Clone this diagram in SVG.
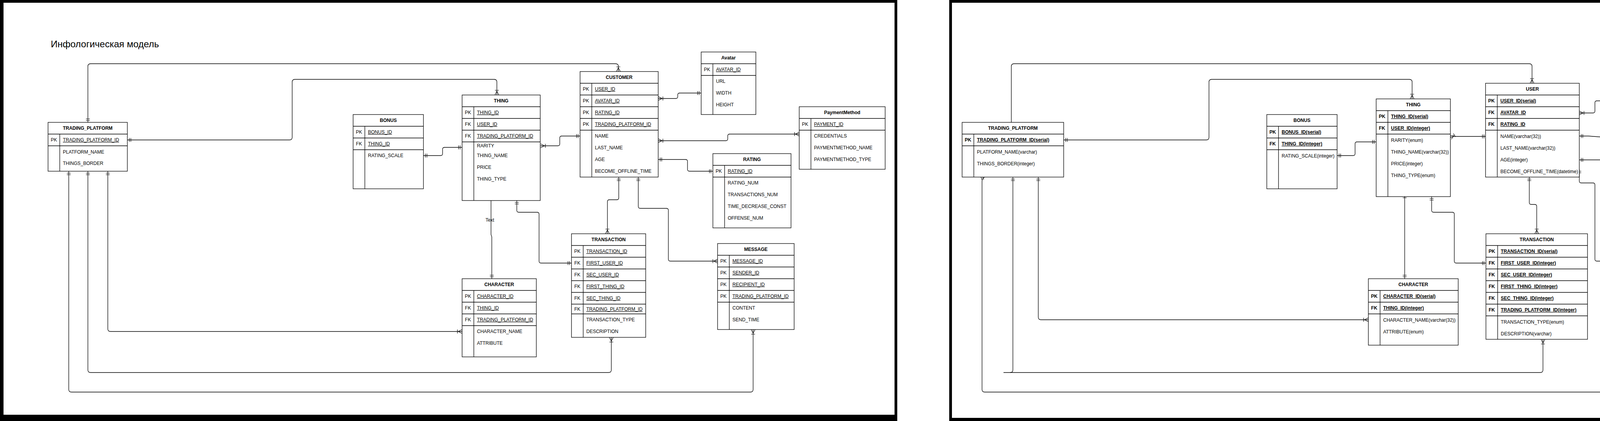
<svg xmlns="http://www.w3.org/2000/svg" width="5327" height="1077" viewBox="0 0 5327 1077">
<style>
text{font-family:"Liberation Sans",Arial,Helvetica,sans-serif;font-size:12px;fill:#000}
.h{font-weight:bold;text-anchor:middle}
.k{font-weight:bold;text-anchor:middle}
.u{font-weight:bold;text-decoration:underline}
.kl{text-anchor:middle}
.ul{text-decoration:underline}
.tb{fill:#fff;stroke:#000;stroke-width:1.3}
.ln{stroke:#000;stroke-width:1.3;fill:none}
.c{fill:none;stroke:#000;stroke-width:1.3}
.fr{fill:#000}
.title{font-size:24px}
</style>
<defs>
<marker id="one" markerUnits="userSpaceOnUse" viewBox="-16 -8 20 16" refX="0" refY="0" markerWidth="20" markerHeight="16" orient="auto-start-reverse"><path d="M-5,-5V5M-9,-5V5" fill="none" stroke="#000" stroke-width="1.2"/></marker>
<marker id="many" markerUnits="userSpaceOnUse" viewBox="-16 -8 20 16" refX="0" refY="0" markerWidth="20" markerHeight="16" orient="auto-start-reverse"><path d="M0,-5L-10,0L0,5M-12,-5V5" fill="none" stroke="#000" stroke-width="1.2"/></marker>
</defs>
<rect width="5327" height="1077" fill="#fff"/>
<g id="frames">
<rect class="fr" x="0" y="0" width="2297" height="7"/>
<rect class="fr" x="0" y="0" width="9" height="1077"/>
<rect class="fr" x="2290" y="0" width="7" height="1077"/>
<rect class="fr" x="0" y="1061" width="2297" height="16"/>
<rect class="fr" x="2430" y="0" width="2897" height="7"/>
<rect class="fr" x="2430" y="0" width="7" height="1077"/>
<rect class="fr" x="5320" y="0" width="7" height="1077"/>
<rect class="fr" x="2430" y="1069" width="2897" height="8"/>
</g>
<text id="title" class="title" x="130" y="121">Инфологическая модель</text>

<g id="connectors">
<path class="c" d="M225,313V170Q225,163 232,163H1576Q1583,163 1583,170V183" marker-start="url(#one)" marker-end="url(#many)"/>
<path class="c" d="M326,358H741Q748,358 748,351V210Q748,203 755,203H1265Q1272,203 1272,210V243" marker-start="url(#one)" marker-end="url(#many)"/>
<path class="c" d="M1084,398H1128Q1133,398 1133,393V382Q1133,377 1138,377H1183" marker-start="url(#one)" marker-end="url(#one)"/>
<path class="c" d="M1384,373H1428Q1433,373 1433,368V353Q1433,348 1438,348H1485" marker-start="url(#many)" marker-end="url(#one)"/>
<path class="c" d="M1685,252H1730Q1735,252 1735,247V243Q1735,238 1740,238H1795" marker-start="url(#many)" marker-end="url(#one)"/>
<path class="c" d="M1685,360H1858Q1863,360 1863,355V348Q1863,343 1868,343H2046" marker-start="url(#many)" marker-end="url(#many)"/>
<path class="c" d="M1685,408H1755Q1760,408 1760,413V433Q1760,438 1765,438H1825" marker-start="url(#one)" marker-end="url(#one)"/>
<path class="c" d="M1584,453V506Q1584,511 1579,511H1560Q1555,511 1555,516V598" marker-start="url(#one)" marker-end="url(#many)"/>
<path class="c" d="M1634,453V528Q1634,533 1639,533H1706Q1711,533 1711,538V663Q1711,668 1716,668H1837" marker-start="url(#one)" marker-end="url(#many)"/>
<path class="c" d="M1257,494V600L1259,606V713" marker-start="url(#many)" marker-end="url(#one)"/>
<path class="c" d="M1323,513V538Q1323,543 1328,543H1375Q1380,543 1380,548V668Q1380,673 1385,673H1463" marker-start="url(#one)" marker-end="url(#one)"/>
<path class="c" d="M276,438V841Q276,848 283,848H1183" marker-start="url(#one)" marker-end="url(#many)"/>
<path class="c" d="M225,438V946Q225,953 232,953H1558Q1565,953 1565,946V863" marker-start="url(#one)" marker-end="url(#many)"/>
<path class="c" d="M176,438V996Q176,1003 183,1003H1921Q1928,1003 1928,996V843" marker-start="url(#one)" marker-end="url(#many)"/>
<text x="1254" y="567" text-anchor="middle">Text</text>

<path class="c" d="M2589,313V170Q2589,163 2596,163H3915Q3922,163 3922,170V213" marker-end="url(#many)"/>
<path class="c" d="M2723,358H3088Q3095,358 3095,351V210Q3095,203 3102,203H3608Q3615,203 3615,210V253" marker-start="url(#one)" marker-end="url(#many)"/>
<path class="c" d="M3423,398H3464Q3469,398 3469,393V368Q3469,363 3474,363H3523" marker-start="url(#one)" marker-end="url(#one)"/>
<path class="c" d="M3713,352Q3718,349 3724,349H3804" marker-start="url(#many)" marker-end="url(#one)"/>
<path class="c" d="M4043,289H4078Q4083,289 4083,284V263Q4083,258 4088,258H4123" marker-start="url(#many)" marker-end="url(#one)"/>
<path class="c" d="M4043,348H4066L4538,383H4553" marker-start="url(#one)" marker-end="url(#many)"/>
<path class="c" d="M4763,383H4792L4950,398H4973" marker-start="url(#many)" marker-end="url(#one)"/>
<path class="c" d="M4043,409H4098Q4103,409 4103,414V433Q4103,438 4108,438H4163" marker-start="url(#one)" marker-end="url(#one)"/>
<path class="c" d="M3915,453V518Q3915,523 3920,523H3929Q3934,523 3934,528V598" marker-start="url(#one)" marker-end="url(#many)"/>
<path class="c" d="M4043,433V463Q4043,468 4048,468H4078Q4083,468 4083,473V663Q4083,668 4088,668H4176" marker-start="url(#one)" marker-end="url(#many)"/>
<path class="c" d="M3596,494V713" marker-start="url(#many)" marker-end="url(#one)"/>
<path class="c" d="M3665,503V538Q3665,543 3670,543H3718Q3723,543 3723,548V668Q3723,673 3728,673H3804" marker-start="url(#one)" marker-end="url(#one)"/>
<path class="c" d="M2658,453V811Q2658,818 2665,818H3503" marker-start="url(#one)" marker-end="url(#many)"/>
<path class="c" d="M2593,453V946Q2593,953 2586,953" marker-start="url(#one)"/>
<path class="c" d="M2569,953H3943Q3950,953 3950,946V868" marker-end="url(#many)"/>
<path class="c" d="M2521,453Q2514,456 2514,464V996Q2514,1003 2521,1003H4259Q4266,1003 4266,996V813" marker-start="url(#one)" marker-end="url(#many)"/>
</g>

<!-- LEFT PANEL -->
<g id="l-trading-platform">
<rect class="tb" x="123" y="313" width="203" height="125"/>
<path class="ln" d="M123,343H326M123,373H326M153,343V438"/>
<text class="h" x="224.5" y="332">TRADING_PLATFORM</text>
<text class="kl" x="138" y="362">PK</text><text class="ul" x="161" y="362">TRADING_PLATFORM_ID</text>
<text x="161" y="393">PLATFORM_NAME</text>
<text x="161" y="422">THINGS_BORDER</text>
</g>
<g id="l-bonus">
<rect class="tb" x="904" y="293" width="180" height="190"/>
<path class="ln" d="M904,323H1084M904,353H1084M904,383H1084M934,323V483"/>
<text class="h" x="994" y="312">BONUS</text>
<text class="kl" x="919" y="342">PK</text><text class="ul" x="942" y="342">BONUS_ID</text>
<text class="kl" x="919" y="372">FK</text><text class="ul" x="942" y="372">THING_ID</text>
<text x="942" y="402">RATING_SCALE</text>
</g>
<g id="l-thing">
<rect class="tb" x="1183" y="243" width="200" height="270"/>
<path class="ln" d="M1183,273H1383M1183,303H1383M1183,333H1383M1183,363H1383M1213,273V513"/>
<text class="h" x="1283" y="262">THING</text>
<text class="kl" x="1198" y="292">PK</text><text class="ul" x="1221" y="292">THING_ID</text>
<text class="kl" x="1198" y="322">FK</text><text class="ul" x="1221" y="322">USER_ID</text>
<text class="kl" x="1198" y="352">FK</text><text class="ul" x="1221" y="352">TRADING_PLATFORM_ID</text>
<text x="1221" y="377">RARITY</text>
<text x="1221" y="402">THING_NAME</text>
<text x="1221" y="432">PRICE</text>
<text x="1221" y="462">THING_TYPE</text>
</g>
<g id="l-customer">
<rect class="tb" x="1485" y="183" width="200" height="270"/>
<path class="ln" d="M1485,213H1685M1485,243H1685M1485,273H1685M1485,303H1685M1485,333H1685M1515,213V453"/>
<text class="h" x="1585" y="202">CUSTOMER</text>
<text class="kl" x="1500" y="232">PK</text><text class="ul" x="1523" y="232">USER_ID</text>
<text class="kl" x="1500" y="262">PK</text><text class="ul" x="1523" y="262">AVATAR_ID</text>
<text class="kl" x="1500" y="292">PK</text><text class="ul" x="1523" y="292">RATING_ID</text>
<text class="kl" x="1500" y="322">PK</text><text class="ul" x="1523" y="322">TRADING_PLATFORM_ID</text>
<text x="1523" y="352">NAME</text>
<text x="1523" y="382">LAST_NAME</text>
<text x="1523" y="412">AGE</text>
<text x="1523" y="442">BECOME_OFFLINE_TIME</text>
</g>
<g id="l-avatar">
<rect class="tb" x="1795" y="133" width="140" height="160"/>
<path class="ln" d="M1795,163H1935M1795,193H1935M1825,163V293"/>
<text class="h" x="1865" y="152">Avatar</text>
<text class="kl" x="1810" y="182">PK</text><text class="ul" x="1833" y="182">AVATAR_ID</text>
<text x="1833" y="212">URL</text>
<text x="1833" y="242">WIDTH</text>
<text x="1833" y="272">HEIGHT</text>
</g>
<g id="l-paymentmethod">
<rect class="tb" x="2046" y="273" width="220" height="160"/>
<path class="ln" d="M2046,303H2266M2046,333H2266M2076,303V433"/>
<text class="h" x="2156" y="292">PaymentMethod</text>
<text class="kl" x="2061" y="322">PK</text><text class="ul" x="2084" y="322">PAYMENT_ID</text>
<text x="2084" y="352">CREDENTIALS</text>
<text x="2084" y="382">PAYMENTMETHOD_NAME</text>
<text x="2084" y="412">PAYMENTMETHOD_TYPE</text>
</g>
<g id="l-rating">
<rect class="tb" x="1825" y="393" width="200" height="190"/>
<path class="ln" d="M1825,423H2025M1825,453H2025M1855,423V583"/>
<text class="h" x="1925" y="412">RATING</text>
<text class="kl" x="1840" y="442">PK</text><text class="ul" x="1863" y="442">RATING_ID</text>
<text x="1863" y="472">RATING_NUM</text>
<text x="1863" y="502">TRANSACTIONS_NUM</text>
<text x="1863" y="532">TIME_DECREASE_CONST</text>
<text x="1863" y="562">OFFENSE_NUM</text>
</g>
<g id="l-character">
<rect class="tb" x="1183" y="713" width="190" height="200"/>
<path class="ln" d="M1183,743H1373M1183,773H1373M1183,803H1373M1183,833H1373M1213,743V913"/>
<text class="h" x="1278" y="732">CHARACTER</text>
<text class="kl" x="1198" y="762">PK</text><text class="ul" x="1221" y="762">CHARACTER_ID</text>
<text class="kl" x="1198" y="792">FK</text><text class="ul" x="1221" y="792">THING_ID</text>
<text class="kl" x="1198" y="822">FK</text><text class="ul" x="1221" y="822">TRADING_PLATFORM_ID</text>
<text x="1221" y="852">CHARACTER_NAME</text>
<text x="1221" y="882">ATTRIBUTE</text>
</g>
<g id="l-transaction">
<rect class="tb" x="1463" y="598" width="190" height="265"/>
<path class="ln" d="M1463,628H1653M1463,658H1653M1463,688H1653M1463,718H1653M1463,748H1653M1463,778H1653M1463,803H1653M1493,628V863"/>
<text class="h" x="1558" y="617">TRANSACTION</text>
<text class="kl" x="1478" y="647">PK</text><text class="ul" x="1501" y="647">TRANSACTION_ID</text>
<text class="kl" x="1478" y="677">FK</text><text class="ul" x="1501" y="677">FIRST_USER_ID</text>
<text class="kl" x="1478" y="707">FK</text><text class="ul" x="1501" y="707">SEC_USER_ID</text>
<text class="kl" x="1478" y="737">FK</text><text class="ul" x="1501" y="737">FIRST_THING_ID</text>
<text class="kl" x="1478" y="767">FK</text><text class="ul" x="1501" y="767">SEC_THING_ID</text>
<text class="kl" x="1478" y="795">FK</text><text class="ul" x="1501" y="795">TRADING_PLATFORM_ID</text>
<text x="1501" y="822">TRANSACTION_TYPE</text>
<text x="1501" y="852">DESCRIPTION</text>
</g>
<g id="l-message">
<rect class="tb" x="1837" y="623" width="196" height="220"/>
<path class="ln" d="M1837,653H2033M1837,683H2033M1837,713H2033M1837,743H2033M1837,773H2033M1867,653V843"/>
<text class="h" x="1935" y="642">MESSAGE</text>
<text class="kl" x="1852" y="672">PK</text><text class="ul" x="1875" y="672">MESSAGE_ID</text>
<text class="kl" x="1852" y="702">PK</text><text class="ul" x="1875" y="702">SENDER_ID</text>
<text class="kl" x="1852" y="732">PK</text><text class="ul" x="1875" y="732">RECIPIENT_ID</text>
<text class="kl" x="1852" y="762">PK</text><text class="ul" x="1875" y="762">TRADING_PLATFORM_ID</text>
<text x="1875" y="792">CONTENT</text>
<text x="1875" y="822">SEND_TIME</text>
</g>

<!-- RIGHT PANEL -->
<g id="r-trading-platform">
<rect class="tb" x="2463" y="313" width="260" height="140"/>
<path class="ln" d="M2463,343H2723M2463,373H2723M2493,343V453"/>
<text class="h" x="2593" y="332">TRADING_PLATFORM</text>
<text class="k" x="2478" y="362">PK</text><text class="u" x="2501" y="362">TRADING_PLATFORM_ID(serial)</text>
<text x="2501" y="393">PLATFORM_NAME(varchar)</text>
<text x="2501" y="423">THINGS_BORDER(integer)</text>
</g>
<g id="r-bonus">
<rect class="tb" x="3243" y="293" width="180" height="190"/>
<path class="ln" d="M3243,323H3423M3243,353H3423M3243,383H3423M3273,323V483"/>
<text class="h" x="3333" y="312">BONUS</text>
<text class="k" x="3258" y="342">PK</text><text class="u" x="3281" y="342">BONUS_ID(serial)</text>
<text class="k" x="3258" y="372">FK</text><text class="u" x="3281" y="372">THING_ID(integer)</text>
<text x="3281" y="403">RATING_SCALE(integer)</text>
</g>
<g id="r-thing">
<rect class="tb" x="3523" y="253" width="190" height="250"/>
<path class="ln" d="M3523,283H3713M3523,313H3713M3523,343H3713M3553,283V503"/>
<text class="h" x="3618" y="272">THING</text>
<text class="k" x="3538" y="302">PK</text><text class="u" x="3561" y="302">THING_ID(serial)</text>
<text class="k" x="3538" y="332">FK</text><text class="u" x="3561" y="332">USER_ID(integer)</text>
<text x="3561" y="363">RARITY(enum)</text>
<text x="3561" y="393">THING_NAME(varchar(32))</text>
<text x="3561" y="423">PRICE(integer)</text>
<text x="3561" y="453">THING_TYPE(enum)</text>
</g>
<g id="r-user">
<rect class="tb" x="3803" y="213" width="240" height="240"/>
<path class="ln" d="M3803,243H4043M3803,273H4043M3803,303H4043M3803,333H4043M3833,243V453"/>
<text class="h" x="3923" y="232">USER</text>
<text class="k" x="3818" y="262">PK</text><text class="u" x="3841" y="262">USER_ID(serial)</text>
<text class="k" x="3818" y="292">FK</text><text class="u" x="3841" y="292">AVATAR_ID</text>
<text class="k" x="3818" y="322">FK</text><text class="u" x="3841" y="322">RATING_ID</text>
<text x="3841" y="353">NAME(varchar(32))</text>
<text x="3841" y="383">LAST_NAME(varchar(32))</text>
<text x="3841" y="413">AGE(integer)</text>
<text x="3841" y="443">BECOME_OFFLINE_TIME(datetime)</text>
</g>
<g id="r-avatar">
<rect class="tb" x="4123" y="153" width="150" height="160"/>
<path class="ln" d="M4123,183H4273M4123,213H4273M4153,183V313"/>
<text class="h" x="4198" y="172">Avatar</text>
<text class="k" x="4138" y="202">PK</text><text class="u" x="4161" y="202">AVATAR_ID(serial)</text>
<text x="4161" y="233">URL(varchar)</text>
<text x="4161" y="263">WIDTH(integer)</text>
<text x="4161" y="293">HEIGHT(integer)</text>
</g>
<g id="r-rating">
<rect class="tb" x="4163" y="393" width="260" height="190"/>
<path class="ln" d="M4163,423H4423M4163,453H4423M4193,423V583"/>
<text class="h" x="4293" y="412">RATING</text>
<text class="k" x="4178" y="442">PK</text><text class="u" x="4201" y="442">RATING_ID(serial)</text>
<text x="4201" y="473">RATING_NUM(integer)</text>
<text x="4201" y="503">TRANSACTIONS_NUM(integer)</text>
<text x="4201" y="533">TIME_DECREASE_CONST(datetime)</text>
<text x="4201" y="563">OFFENSE_NUM(integer)</text>
</g>
<g id="r-user-paymentmethod">
<rect class="tb" x="4553" y="308" width="210" height="140"/>
<path class="ln" d="M4553,338H4763M4553,398H4763M4613,338V448"/>
<text class="h" x="4658" y="327">USER_PAYMENTMETHOD</text>
<text class="k" x="4583" y="358">PK,FK1</text><text class="u" x="4621" y="358">USER_ID(integer)</text>
<text class="k" x="4583" y="388">PK,FK2</text><text class="u" x="4621" y="388">PAYMENT_ID(integer)</text>
</g>
<g id="r-paymentmethod">
<rect class="tb" x="4973" y="293" width="300" height="155"/>
<path class="ln" d="M4973,323H5273M4973,353H5273M5003,323V448"/>
<text class="h" x="5123" y="312">PAYMENTMETHOD</text>
<text class="k" x="4988" y="342">PK</text><text class="u" x="5011" y="342">PAYMENT_ID(serial)</text>
<text x="5011" y="373">CREDENTIALS(varchar)</text>
<text x="5011" y="403">PAYMENTMETHOD_NAME(varchar(32))</text>
<text x="5011" y="433">PAYMENTMETHOD_TYPE(enum)</text>
</g>
<g id="r-character">
<rect class="tb" x="3503" y="713" width="230" height="170"/>
<path class="ln" d="M3503,743H3733M3503,773H3733M3503,803H3733M3533,743V883"/>
<text class="h" x="3618" y="732">CHARACTER</text>
<text class="k" x="3518" y="762">PK</text><text class="u" x="3541" y="762">CHARACTER_ID(serial)</text>
<text class="k" x="3518" y="792">FK</text><text class="u" x="3541" y="792">THING_ID(integer)</text>
<text x="3541" y="823">CHARACTER_NAME(varchar(32))</text>
<text x="3541" y="853">ATTRIBUTE(enum)</text>
</g>
<g id="r-transaction">
<rect class="tb" x="3804" y="598" width="260" height="270"/>
<path class="ln" d="M3804,628H4064M3804,658H4064M3804,688H4064M3804,718H4064M3804,748H4064M3804,778H4064M3804,808H4064M3834,628V868"/>
<text class="h" x="3934" y="617">TRANSACTION</text>
<text class="k" x="3819" y="647">PK</text><text class="u" x="3842" y="647">TRANSACTION_ID(serial)</text>
<text class="k" x="3819" y="677">FK</text><text class="u" x="3842" y="677">FIRST_USER_ID(integer)</text>
<text class="k" x="3819" y="707">FK</text><text class="u" x="3842" y="707">SEC_USER_ID(integer)</text>
<text class="k" x="3819" y="737">FK</text><text class="u" x="3842" y="737">FIRST_THING_ID(integer)</text>
<text class="k" x="3819" y="767">FK</text><text class="u" x="3842" y="767">SEC_THING_ID(integer)</text>
<text class="k" x="3819" y="797">FK</text><text class="u" x="3842" y="797">TRADING_PLATFORM_ID(integer)</text>
<text x="3842" y="828">TRANSACTION_TYPE(enum)</text>
<text x="3842" y="858">DESCRIPTION(varchar)</text>
</g>
<g id="r-message">
<rect class="tb" x="4176" y="623" width="180" height="190"/>
<path class="ln" d="M4176,653H4356M4176,683H4356M4176,713H4356M4176,743H4356M4206,653V813"/>
<text class="h" x="4266" y="642">MESSAGE</text>
<text class="k" x="4191" y="672">PK</text><text class="u" x="4214" y="672">MESSAGE_ID(serial)</text>
<text class="k" x="4191" y="702">FK</text><text class="u" x="4214" y="702">SENDER_ID(integer)</text>
<text class="k" x="4191" y="732">FK</text><text class="u" x="4214" y="732">RECIPIENT_ID(integer)</text>
<text x="4214" y="763">CONTENT(varchar)</text>
<text x="4214" y="793">SEND_TIME(datetime)</text>
</g>
</svg>
